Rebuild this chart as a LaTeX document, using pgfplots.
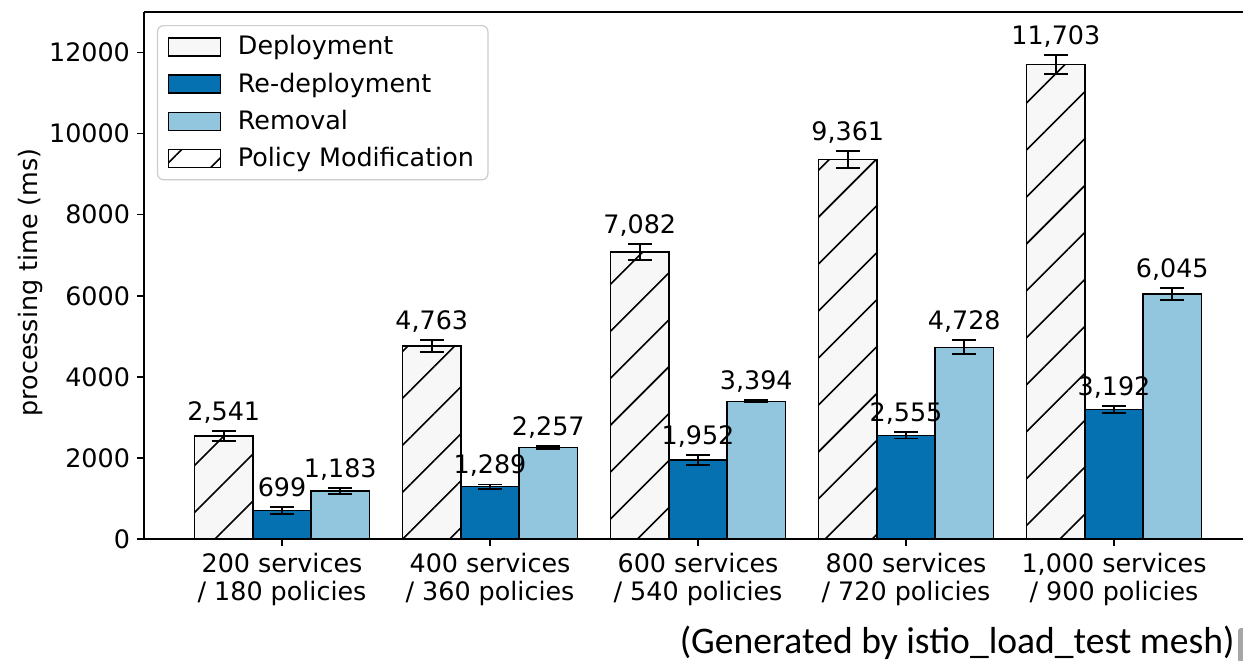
\documentclass[border=0pt]{standalone}
\usepackage{pgfplots}
\pgfplotsset{compat=1.18}
\usepackage{pgfplotstable}
\usepackage{fontspec}
\setmainfont{DejaVu Sans}
\newfontfamily\capfont{Carlito}
\usetikzlibrary{patterns.meta,calc}

\definecolor{depfill}{HTML}{F7F7F7}
\definecolor{redepfill}{HTML}{0571B0}
\definecolor{remfill}{HTML}{92C5DE}

% processing times (ms) and their spread, per mesh size
\pgfplotstableread{
x dep   deperr redep redeperr rem  remerr
0 2541  130    699   80       1183 75
1 4763  145    1289  55       2257 30
2 7082  200    1952  125      3394 25
3 9361  200    2555  75       4728 175
4 11703 235    3192  90       6045 140
}\timings

\tikzset{
  hatch/.style={postaction={pattern={Lines[angle=45,distance=16.6pt,line width=0.8pt]}}},
}
\pgfplotsset{
  barstyle/.style={ybar, forget plot, bar width=0.28, bar shift=0pt, draw=black, line width=0.75pt},
  errstyle/.style={error bars/.cd, y dir=both, y explicit,
    error bar style={line width=0.95pt, solid, black},
    error mark options={rotate=90, mark size=6pt, line width=0.95pt, black}},
  valuelabel/.style={draw=none, mark=none, forget plot,
    nodes near coords={\pgfmathprintnumber[fixed,precision=0,1000 sep={,},assume math mode=true]{\pgfplotspointmeta}},
    every node near coord/.append style={anchor=base, yshift=5.35pt, text=black}},
  legbox/.style={legend image code/.code={%
    \draw[sharp corners, #1, line width=0.75pt] (0pt,-4.5pt) rectangle (26pt,4.5pt);
    \path (32.5pt,0pt);}},
}

\begin{document}
\begin{tikzpicture}[font=\fontsize{12.7}{14}\selectfont]
\begin{axis}[
  name=ax, at={(0,0)}, anchor=south west,
  scale only axis, width=549.5pt, height=263.5pt,
  xmin=-0.6635, xmax=4.62, ymin=0, ymax=13000,
  axis x line*=box, axis y line*=left,
  axis line style={line width=0.75pt},
  tick pos=left, tick align=outside, major tick length=3.5pt,
  every tick/.style={black, line width=0.75pt},
  xtick={0,1,2,3,4},
  xticklabels={{200 services\\/ 180 policies},{400 services\\/ 360 policies},{600 services\\/ 540 policies},{800 services\\/ 720 policies},{1,000 services\\/ 900 policies}},
  xticklabel style={align=center},
  ytick={0,2000,...,12000},
  scaled y ticks=false,
  /pgf/number format/assume math mode=true,
  /pgf/number format/set thousands separator={},
  ylabel={processing time (ms)},
  ylabel style={at={(axis description cs:-0.1037,0.487)}, anchor=center},
  clip=false,
  legend cell align=left,
  legend style={at={(axis description cs:0.01183,0.9753)}, anchor=north west,
    draw=black!20, rounded corners=3pt, line width=0.6pt, fill=white,
    inner xsep=5pt, inner ysep=3pt, row sep=3.5pt},
]
\addplot[barstyle, fill=depfill, hatch, errstyle]
  table[x expr=\thisrow{x}-0.28, y=dep, y error=deperr] {\timings};
\addplot[barstyle, fill=redepfill, errstyle]
  table[x expr=\thisrow{x}, y=redep, y error=redeperr] {\timings};
\addplot[barstyle, fill=remfill, errstyle]
  table[x expr=\thisrow{x}+0.28, y=rem, y error=remerr] {\timings};

\addplot[valuelabel, point meta=\thisrow{dep}]
  table[x expr=\thisrow{x}-0.28, y expr=\thisrow{dep}+\thisrow{deperr}] {\timings};
\addplot[valuelabel, point meta=\thisrow{redep}]
  table[x expr=\thisrow{x}, y expr=\thisrow{redep}+\thisrow{redeperr}] {\timings};
\addplot[valuelabel, point meta=\thisrow{rem}]
  table[x expr=\thisrow{x}+0.28, y expr=\thisrow{rem}+\thisrow{remerr}] {\timings};

\addlegendimage{legbox={fill=depfill}}
\addlegendentry{Deployment}
\addlegendimage{legbox={fill=redepfill}}
\addlegendentry{Re-deployment}
\addlegendimage{legbox={fill=remfill}}
\addlegendentry{Removal}
\addlegendimage{legbox={fill=white, hatch}}
\addlegendentry{Policy Modification}
\end{axis}

\node[anchor=base east, font=\capfont\fontsize{18.8}{20}\selectfont, inner sep=0pt]
  at ($(ax.south west)+(545.5pt,-57pt)$) {(Generated by istio\_load\_test mesh)};
\fill[black!35, rounded corners=1.5pt] ($(ax.south west)+(547pt,-44.5pt)$) rectangle ($(ax.south west)+(553pt,-62pt)$);

\pgfresetboundingbox
\useasboundingbox ($(ax.south west)+(-72pt,-60.5pt)$) rectangle ($(ax.south west)+(549.5pt,269.5pt)$);
\end{tikzpicture}
\end{document}
